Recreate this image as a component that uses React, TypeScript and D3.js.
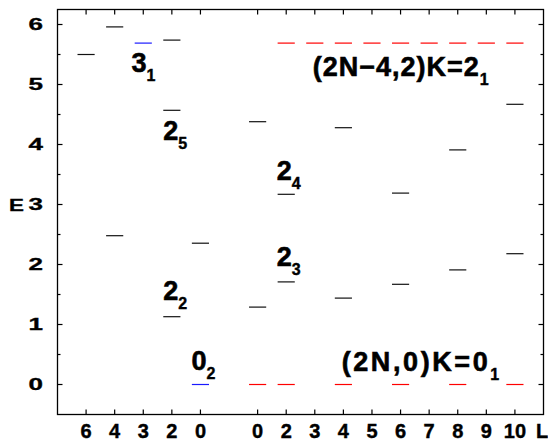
import React from "react";
import * as d3 from "d3";

// column positions along the x axis; slot 6 is an empty gap between the two groups
const xSlots = [1, 2, 3, 4, 5, 7, 8, 9, 10, 11, 12, 13, 14, 15, 16];
const xLabels = ["6", "4", "3", "2", "0", "0", "2", "3", "4", "5", "6", "7", "8", "9", "10"];
const yTicks = [0, 1, 2, 3, 4, 5, 6];

// black levels
const blackPos = [1, 2, 2, 4, 4, 4, 5, 7, 7, 8, 8, 10, 10, 12, 12, 14, 14, 16, 16];
const blackE = [5.5, 5.96, 2.48, 5.74, 4.57, 1.13, 2.355, 4.38, 1.29, 3.17, 1.71, 4.28, 1.44, 3.19, 1.67, 3.91, 1.91, 4.67, 2.18];

// blue levels
const bluePos = [3, 5];
const blueE = [5.69, 0];

// red bands
const redK0Pos = [7, 8, 10, 12, 14, 16];
const redK0E = [0, 0, 0, 0, 0, 0];
const redK2Pos = [8, 9, 10, 11, 12, 13, 14, 15, 16];
const redK2E = [5.69, 5.69, 5.69, 5.69, 5.69, 5.69, 5.69, 5.69, 5.69];

// annotations: main text, subscript, anchor (x slot, energy)
const noteMain = ["3", "2", "2", "2", "2", "0", "(2N\u22124,2)K=2", "(2N,0)K=0"];
const noteSub = ["1", "5", "4", "3", "2", "2", "1", "1"];
const noteX = [2.59, 3.7, 7.67, 7.67, 3.7, 4.69, 8.93, 9.94];
const noteE = [5.21, 4.07, 3.405, 1.977, 1.405, 0.25, 5.14, 0.22];
const noteLen = [0, 0, 0, 0, 0, 0, 166, 146];

const W = 548;
const H = 443;
const font = "'Liberation Sans', Arial, Helvetica, sans-serif";

export default function App() {
  const x = d3.scaleLinear().domain([0, 17]).range([57.5, 543.5]);
  const y = d3.scaleLinear().domain([-0.5, 6.25]).range([414.5, 9.5]);
  const half = 0.3;

  const minor = d3.range(-0.5, 6.25, 0.5).filter((v) => !yTicks.includes(v) && v > -0.5);

  const level = (p: number, e: number, color: string, key: string) => (
    <line
      key={key}
      x1={x(p - half)}
      x2={x(p + half)}
      y1={y(e)}
      y2={y(e)}
      stroke={color}
      strokeWidth={1.2}
    />
  );

  return (
    <svg
      width={W}
      height={H}
      style={{ position: "absolute", left: 0, top: 0, background: "#fff" }}
      fontFamily={font}
      fontWeight="bold"
    >
      {/* frame */}
      <rect x={x(0)} y={y(6.25)} width={x(17) - x(0)} height={y(-0.5) - y(6.25)} fill="none" stroke="#000" strokeWidth={1.3} />

      {/* x ticks, top and bottom, pointing inward */}
      {xSlots.map((s) => (
        <g key={"xt" + s}>
          <line x1={x(s)} x2={x(s)} y1={y(-0.5)} y2={y(-0.5) - 5} stroke="#000" strokeWidth={1.2} />
          <line x1={x(s)} x2={x(s)} y1={y(6.25)} y2={y(6.25) + 5} stroke="#000" strokeWidth={1.2} />
        </g>
      ))}
      {xSlots.map((s, i) => (
        <text key={"xl" + s} x={x(s)} y={438.3} textAnchor="middle" fontSize={20} stroke="#000" strokeWidth={0.4}>
          {xLabels[i]}
        </text>
      ))}
      <text x={542} y={438.3} textAnchor="middle" fontSize={20} stroke="#000" strokeWidth={0.4}>L</text>

      {/* y ticks, left and right */}
      {yTicks.map((t) => (
        <g key={"yt" + t}>
          <line x1={x(0)} x2={x(0) + 5} y1={y(t)} y2={y(t)} stroke="#000" strokeWidth={1.2} />
          <line x1={x(17)} x2={x(17) - 5} y1={y(t)} y2={y(t)} stroke="#000" strokeWidth={1.2} />
          <text
            transform={`translate(43,${y(t)}) scale(1.3,0.87)`}
            textAnchor="end"
            dominantBaseline="central"
            fontSize={20}
            stroke="#000"
            strokeWidth={0.4}
          >
            {t}
          </text>
        </g>
      ))}
      {minor.map((t) => (
        <g key={"ym" + t}>
          <line x1={x(0)} x2={x(0) + 3} y1={y(t)} y2={y(t)} stroke="#000" strokeWidth={1.2} />
          <line x1={x(17)} x2={x(17) - 3} y1={y(t)} y2={y(t)} stroke="#000" strokeWidth={1.2} />
        </g>
      ))}
      <text
        transform={`translate(9,${y(3)}) scale(1.12,0.87)`}
        textAnchor="start"
        dominantBaseline="central"
        fontSize={20}
        stroke="#000"
        strokeWidth={0.4}
      >
        E
      </text>

      {/* levels */}
      {blackPos.map((p, i) => level(p, blackE[i], "#111", "b" + i))}
      {bluePos.map((p, i) => level(p, blueE[i], "#1a1aff", "u" + i))}
      {redK0Pos.map((p, i) => level(p, redK0E[i], "#ff0000", "r0" + i))}
      {redK2Pos.map((p, i) => level(p, redK2E[i], "#ff0000", "r2" + i))}

      {/* labels */}
      {noteMain.map((m, i) => (
        <text key={"n" + i} x={x(noteX[i])} y={y(noteE[i])} fontSize={27} stroke="#000" strokeWidth={0.6}>
          {noteLen[i] ? (
            <tspan textLength={noteLen[i]} lengthAdjust="spacing">{m}</tspan>
          ) : (
            <tspan>{m}</tspan>
          )}
          <tspan dx={0} dy={9} fontSize={16} strokeWidth={0.4}>{noteSub[i]}</tspan>
        </text>
      ))}
    </svg>
  );
}
